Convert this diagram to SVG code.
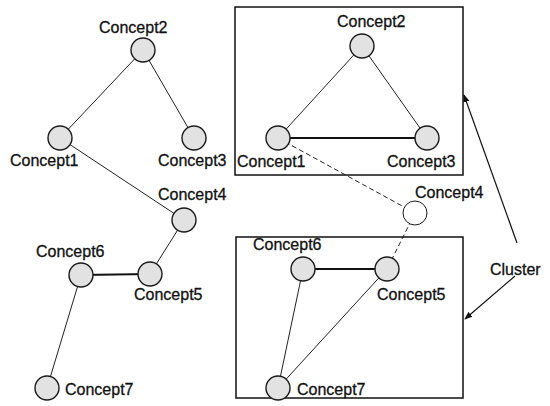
<svg xmlns="http://www.w3.org/2000/svg" width="550" height="406" viewBox="0 0 550 406">
<style>
  text { font-family: "Liberation Sans", Arial, sans-serif; font-size: 16px; fill: #111; stroke: #111; stroke-width: 0.3; }
  .n { fill: #e2e2e2; stroke: #1a1a1a; stroke-width: 1.4; }
  .w { fill: #ffffff; stroke: #1a1a1a; stroke-width: 1; }
  .e { stroke: #222; stroke-width: 1; fill: none; }
  .b { stroke: #111; stroke-width: 1.8; fill: none; }
  .d { stroke: #222; stroke-width: 1; stroke-dasharray: 5 3; fill: none; }
  .box { fill: none; stroke: #111; stroke-width: 1.5; }
  .a { stroke: #111; stroke-width: 1.2; fill: none; marker-end: url(#ah); }
</style>
<defs>
  <marker id="ah" viewBox="0 0 10 10" refX="9" refY="5" markerWidth="8" markerHeight="8" markerUnits="userSpaceOnUse" orient="auto">
    <path d="M0,1 L10,5 L0,9 z" fill="#111"/>
  </marker>
</defs>
<rect fill="#ffffff" x="0" y="0" width="550" height="406"/>

<g id="clusters">
  <rect class="box" x="235" y="7" width="228" height="168"/>
  <rect class="box" x="236" y="237" width="227" height="161"/>
</g>

<g id="connectors">
  <line class="e" x1="143" y1="50" x2="60" y2="138"/>
  <line class="e" x1="143" y1="50" x2="194" y2="138"/>
  <line class="e" x1="60" y1="138" x2="184" y2="220"/>
  <line class="e" x1="184" y1="220" x2="150" y2="274"/>
  <line class="b" x1="150" y1="274" x2="81" y2="275"/>
  <line class="e" x1="81" y1="275" x2="47" y2="388"/>
  <line class="e" x1="362" y1="46" x2="278" y2="138"/>
  <line class="e" x1="362" y1="46" x2="427" y2="138"/>
  <line class="b" x1="278" y1="138" x2="427" y2="138"/>
  <line class="d" x1="278" y1="138" x2="415" y2="213"/>
  <line class="d" x1="415" y1="213" x2="387" y2="269"/>
  <line class="b" x1="303" y1="269" x2="387" y2="269"/>
  <line class="e" x1="303" y1="269" x2="278" y2="388"/>
  <line class="e" x1="387" y1="269" x2="278" y2="388"/>
  <line class="a" x1="517" y1="243" x2="464" y2="95"/>
  <line class="a" x1="515" y1="276" x2="465" y2="319"/>
</g>

<g id="L-concept1"><circle class="n" cx="60" cy="138" r="12"/><text x="10" y="166">Concept1</text></g>
<g id="L-concept2"><circle class="n" cx="143" cy="50" r="12"/><text x="99" y="33">Concept2</text></g>
<g id="L-concept3"><circle class="n" cx="194" cy="138" r="12"/><text x="158" y="166">Concept3</text></g>
<g id="L-concept4"><circle class="n" cx="184" cy="220" r="12"/><text x="158" y="200">Concept4</text></g>
<g id="L-concept5"><circle class="n" cx="150" cy="274" r="12"/><text x="134" y="300">Concept5</text></g>
<g id="L-concept6"><circle class="n" cx="81" cy="275" r="12"/><text x="36" y="257">Concept6</text></g>
<g id="L-concept7"><circle class="n" cx="47" cy="388" r="12"/><text x="65" y="395">Concept7</text></g>

<g id="R-concept1"><circle class="n" cx="278" cy="138" r="12"/><text x="237" y="167">Concept1</text></g>
<g id="R-concept2"><circle class="n" cx="362" cy="46" r="12"/><text x="337" y="27">Concept2</text></g>
<g id="R-concept3"><circle class="n" cx="427" cy="138" r="12"/><text x="387" y="167">Concept3</text></g>
<g id="R-concept4"><circle class="w" cx="415" cy="213" r="12"/><text x="415" y="198">Concept4</text></g>
<g id="R-concept5"><circle class="n" cx="387" cy="269" r="12"/><text x="377" y="300">Concept5</text></g>
<g id="R-concept6"><circle class="n" cx="303" cy="269" r="12"/><text x="253" y="250">Concept6</text></g>
<g id="R-concept7"><circle class="n" cx="278" cy="388" r="12"/><text x="297" y="395">Concept7</text></g>

<g id="cluster-label"><text x="490" y="275">Cluster</text></g>
</svg>
